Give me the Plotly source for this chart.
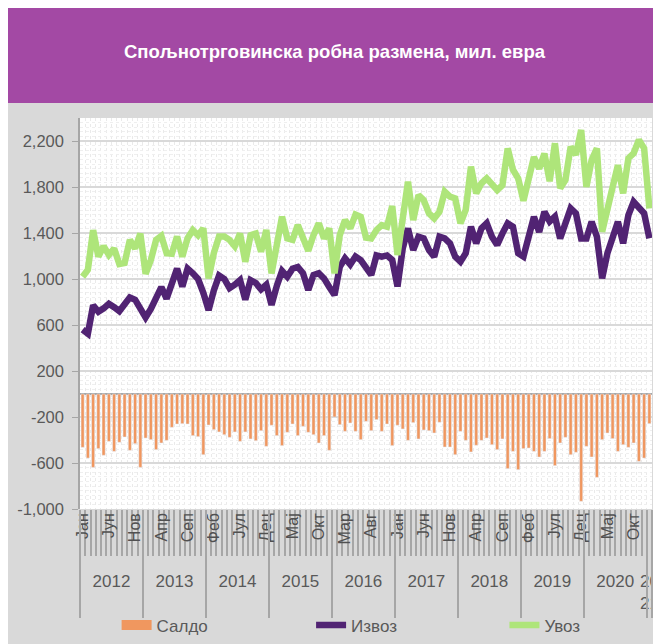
import plotly.graph_objects as go

# Спољнотрговинска робна размена, мил. евра (јан 2012 - јан 2021)
meseci = ["Јан", "Феб", "Мар", "Апр", "Мај", "Јун", "Јул", "Авг", "Сеп", "Окт", "Нов", "Дец"]
godine = ["2012", "2013", "2014", "2015", "2016", "2017", "2018", "2019", "2020", "20<br>21"]

izvoz = [560, 525, 770, 715, 745, 785, 755, 720, 780, 840, 820, 750,
         665, 740, 830, 930, 830, 960, 1090, 935, 1090, 1050, 1000, 880,
         730, 900, 1030, 1000, 920, 950, 990, 820, 990, 965, 910, 950,
         775, 940, 1070, 1020, 1090, 1105, 1050, 905, 1035, 1050, 1005, 930,
         860, 1105, 1180, 1125, 1195, 1165, 1100, 1035, 1205, 1195, 1205, 1165,
         935, 1265, 1440, 1252, 1368, 1353, 1252, 1194, 1368, 1353, 1310, 1194,
         1151, 1223, 1455, 1310, 1440, 1484, 1368, 1296, 1397, 1484, 1455, 1223,
         1194, 1370, 1540, 1410, 1585, 1500, 1542, 1353, 1500, 1614, 1571, 1353,
         1353, 1498, 1368, 1006, 1223, 1382, 1498, 1310, 1556, 1672, 1629, 1571,
         1353]

uvoz = [1020, 1080, 1425, 1195, 1285, 1210, 1265, 1130, 1140, 1340, 1265, 1395,
        1045, 1165, 1340, 1375, 1225, 1220, 1370, 1195, 1355, 1425, 1380, 1440,
        1005, 1225, 1370, 1370, 1340, 1285, 1395, 1150, 1380, 1395, 1238, 1426,
        1049, 1300, 1542, 1353, 1340, 1469, 1368, 1246, 1382, 1484, 1353, 1440,
        1049, 1382, 1513, 1440, 1560, 1540, 1360, 1353, 1426, 1469, 1455, 1635,
        1209, 1520, 1846, 1513, 1730, 1687, 1571, 1527, 1585, 1759, 1716, 1701,
        1484, 1600, 1977, 1745, 1832, 1875, 1817, 1774, 1817, 2136, 1950, 1875,
        1680, 1850, 2060, 1960, 2090, 1850, 2180, 1790, 1860, 2150, 2080, 2296,
        1800, 2035, 2136, 1411, 1640, 1800, 1990, 1745, 2050, 2093, 2210, 2136,
        1614]

saldo = [-464, -557, -638, -475, -533, -412, -499, -420, -374, -490, -432, -638,
         -383, -397, -484, -426, -403, -290, -261, -258, -261, -362, -371, -528,
         -270, -310, -330, -354, -377, -330, -412, -330, -391, -406, -319, -455,
         -272, -362, -449, -333, -261, -362, -281, -333, -354, -426, -362, -490,
         -200, -267, -325, -252, -325, -397, -238, -319, -223, -325, -261, -449,
         -272, -304, -403, -249, -391, -313, -319, -339, -246, -461, -461, -528,
         -325, -403, -504, -446, -403, -383, -441, -484, -391, -649, -499, -658,
         -475, -470, -499, -548, -499, -388, -623, -426, -377, -528, -507, -933,
         -455, -548, -725, -397, -339, -388, -499, -441, -464, -426, -586, -557,
         -258]

y_tikovi = [-1000, -600, -200, 200, 600, 1000, 1400, 1800, 2200]
y_oznake = ["-1,000", "-600", "-200", "200", "600", "1,000", "1,400", "1,800", "2,200"]

SIVA_TEKST = "#595959"
SIVA_LINIJA = "#A6A6A6"
FONT = "Liberation Sans"

n = len(izvoz)
x = list(range(n))
opseg = [-0.5, n - 0.5]

# meseci: oznaka na svakih 5 meseci
mes_vals = x[::5]
mes_text = [meseci[i % 12] for i in mes_vals]

# godine: centri i granice
pocetci = list(range(0, n, 12))
god_centri = [(s + min(s + 12, n) - 1) / 2 for s in pocetci]
god_granice = [s - 0.5 for s in pocetci] + [n - 0.5]
mes_granice = [i - 0.5 for i in range(n + 1)]

fig = go.Figure()

fig.add_trace(go.Bar(x=x, y=saldo, marker_color="#F0975F", width=0.6,
                     showlegend=False, name="Салдо"))
# legenda za saldo (pravougaonik kao u originalu)
fig.add_trace(go.Scatter(x=[None], y=[None], mode="lines", name="Салдо",
                         line=dict(color="#F0975F", width=10), legend="legend"))
fig.add_trace(go.Scatter(x=x, y=izvoz, mode="lines", name="Извоз",
                         line=dict(color="#512373", width=6.5), legend="legend2"))
fig.add_trace(go.Scatter(x=x, y=uvoz, mode="lines", name="Увоз",
                         line=dict(color="#AEE57A", width=6.5), legend="legend3"))
# pomocni tragovi za dodatne x ose
fig.add_trace(go.Scatter(x=[None], y=[None], xaxis="x2", showlegend=False, hoverinfo="skip"))
fig.add_trace(go.Scatter(x=[None], y=[None], xaxis="x3", showlegend=False, hoverinfo="skip"))

leg = dict(orientation="h", y=-0.298, xanchor="left", yanchor="middle",
           bgcolor="rgba(0,0,0,0)", font=dict(size=17, color=SIVA_TEKST))

fig.update_layout(
    width=653, height=636,
    margin=dict(l=72, r=9, t=110, b=135, autoexpand=False),
    paper_bgcolor="#D9D9D9", plot_bgcolor="white",
    font=dict(family=FONT, color=SIVA_TEKST, size=16),
    title=dict(text="<b>Спољнотрговинска робна размена, мил. евра</b>",
               x=0.5, y=0.931, xanchor="center", yanchor="middle",
               font=dict(color="white", size=18.5, family=FONT)),
    bargap=0.4,
    showlegend=True,
    legend=dict(leg, x=0.064),
    legend2=dict(leg, x=0.404),
    legend3=dict(leg, x=0.742),
    shapes=[
        dict(type="rect", xref="paper", yref="paper", x0=-0.2, x1=1.05,
             y0=1.0384, y1=1.35, fillcolor="#A349A4", line_width=0, layer="below"),
    ],
    xaxis=dict(
        range=opseg, tickmode="array", tickvals=god_centri, ticktext=godine,
        ticks="", ticklabelstandoff=60, tickfont=dict(size=17), automargin=False,
        ticklabeloverflow="allow",
        showgrid=False, zeroline=False, showline=False,
        minor=dict(tickmode="array", tickvals=mes_granice, ticks="outside",
                   ticklen=46, tickcolor=SIVA_LINIJA, tickwidth=1.5,
                   showgrid=True, gridcolor="#EAEAEA", griddash="dot", gridwidth=1),
    ),
    xaxis2=dict(
        overlaying="x", anchor="y", side="bottom", range=opseg, automargin=False,
        tickmode="array", tickvals=mes_vals, ticktext=mes_text, tickangle=-90,
        ticks="", tickfont=dict(size=16, color="#505050"),
        showgrid=False, zeroline=False, showline=False,
    ),
    xaxis3=dict(
        overlaying="x", anchor="y", side="bottom", range=opseg, automargin=False,
        tickmode="array", tickvals=god_granice, ticks="outside", ticklen=108,
        tickcolor=SIVA_LINIJA, tickwidth=1.5, showticklabels=False,
        showgrid=False, zeroline=False, showline=False,
    ),
    yaxis=dict(
        range=[-1000, 2400], tickmode="array", tickvals=y_tikovi, ticktext=y_oznake,
        automargin=False,
        showgrid=True, gridcolor="#D9D9D9", gridwidth=1.5,
        zeroline=True, zerolinecolor=SIVA_LINIJA, zerolinewidth=2,
        showline=True, linecolor=SIVA_LINIJA, linewidth=1.5,
        ticks="outside", ticklen=6, tickcolor=SIVA_LINIJA, ticklabelstandoff=5,
        tickfont=dict(size=16.5),
        minor=dict(tickmode="linear", tick0=-1000, dtick=40, ticks="",
                   showgrid=True, gridcolor="#EFEFEF", griddash="dot", gridwidth=1),
    ),
)

fig.write_html("out.html")
